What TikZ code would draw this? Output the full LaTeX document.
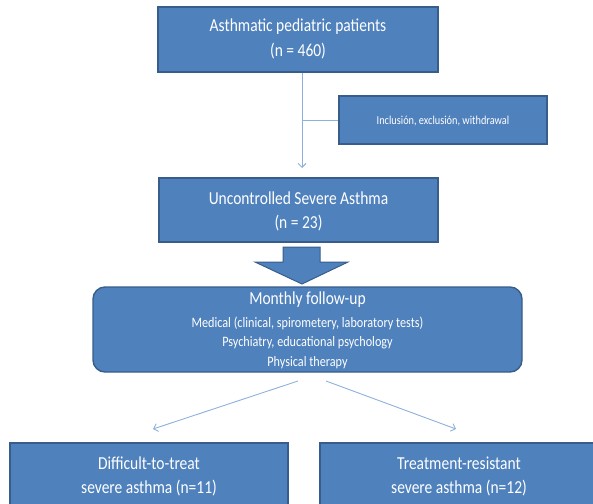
\documentclass[tikz,border=0pt]{standalone}
\usepackage{fontspec}
\setmainfont{Carlito}
\usetikzlibrary{arrows.meta}
\definecolor{boxfill}{HTML}{4F81BD}
\definecolor{boxdraw}{HTML}{385D8A}
\definecolor{conn}{HTML}{8EB0DC}
\newcommand{\tallx}[1]{\scalebox{1}[1.18]{#1}}
\tikzset{
  bluebox/.style={draw=boxdraw, fill=boxfill, line width=1.4pt, inner sep=0pt},
  wtext/.style={text=white, inner sep=0pt, anchor=center},
  bigfont/.style={font=\fontsize{15.5}{17}\selectfont},
  midfont/.style={font=\fontsize{12.2}{14}\selectfont},
  connector/.style={draw=conn, line width=0.9pt, -{Straight Barb[length=4pt,width=8pt]}},
}
\begin{document}
\begin{tikzpicture}[x=1pt,y=-1pt]
\useasboundingbox (0,0) rectangle (593,503);
\clip (0,0) rectangle (593,503);
% top box
\node[bluebox, minimum width=280pt, minimum height=65pt] (top) at (298,39.5) {};
\node[wtext, bigfont] (t1) at (298,27) {\tallx{Asthmatic pediatric patients}};
\node[wtext, bigfont] (t2) at (298,51) {\tallx{(n = 460)}};
% side box
\node[bluebox, minimum width=208pt, minimum height=48pt] (side) at (443,120) {};
\node[wtext, font=\fontsize{10.3}{12}\selectfont] (st) at (443,121) {\tallx{Inclusión, exclusión, withdrawal}};
% second box
\node[bluebox, minimum width=279pt, minimum height=64pt] (unc) at (298.5,210) {};
\node[wtext, bigfont] (u1) at (298.5,198) {\tallx{Uncontrolled Severe Asthma}};
\node[wtext, bigfont] (u2) at (298.5,223) {\tallx{(n = 23)}};
% vertical connector with branch
\coordinate (vs) at (302,73);
\coordinate (ve) at (302,168);
\coordinate (vb) at (302,120);
\draw[connector] (vs) -- (ve);
\draw[draw=conn, line width=0.9pt] (vb) -- (side.west);
% block arrow
\path[fill=boxfill, draw=boxdraw, line width=1pt]
  (283,247) -- (320,247) -- (320,262) -- (348,262) -- (302,284) -- (255,262) -- (283,262) -- cycle;
% monthly box
\node[bluebox, rounded corners=12pt, minimum width=429pt, minimum height=85pt] (month) at (307.5,329.5) {};
\node[wtext, bigfont] (m1) at (307.5,300) {\tallx{Monthly follow-up}};
\node[wtext, midfont] (m2) at (307.5,323) {\tallx{Medical (clinical, spirometery, laboratory tests)}};
\node[wtext, midfont] (m3) at (307.5,343) {\tallx{Psychiatry, educational psychology}};
\node[wtext, midfont] (m4) at (307.5,363) {\tallx{Physical therapy}};
% bottom boxes
\node[bluebox, minimum width=278pt, minimum height=65pt] (diff) at (149,475.5) {};
\node[wtext, bigfont] (d1) at (149,463) {\tallx{Difficult-to-treat}};
\node[wtext, bigfont] (d2) at (149,488) {\tallx{severe asthma (n=11)}};
\node[bluebox, minimum width=278pt, minimum height=65pt] (res) at (459,475.5) {};
\node[wtext, bigfont] (r1) at (459,463) {\tallx{Treatment-resistant}};
\node[wtext, bigfont] (r2) at (459,488) {\tallx{severe asthma (n=12)}};
% diverging arrows
\coordinate (ls) at (298,381);
\coordinate (le) at (153,429);
\coordinate (rs) at (326,381);
\coordinate (re) at (456,429);
\draw[connector] (ls) -- (le);
\draw[connector] (rs) -- (re);
\end{tikzpicture}
\end{document}
